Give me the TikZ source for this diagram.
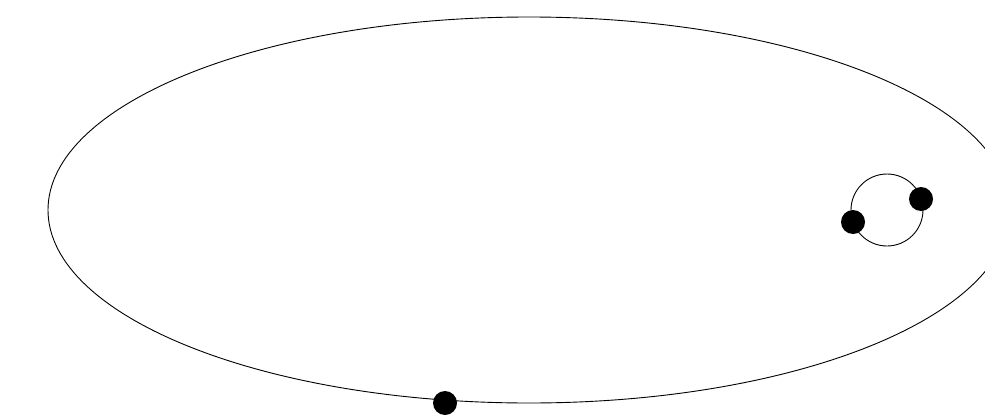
\documentclass[tikz,border=0pt]{standalone}
\tikzset{
  orbit/.style={draw=black, line width=0.9pt},
  body/.style={circle, fill=black, inner sep=0pt, minimum size=24pt},
}
\begin{document}
\begin{tikzpicture}[x=1pt,y=-1pt]
\useasboundingbox (0,0) rectangle (985,415);
\clip (0,0) rectangle (985,415);
\fill[white] (0,0) rectangle (985,415);
\coordinate (sun) at (529,210);
\coordinate (moonorbit) at (887,210);
\draw[orbit] (sun) ellipse [x radius=481, y radius=193];
\draw[orbit] (moonorbit) circle [radius=36];
\node[body] (planet) at (445,403) {};
\node[body] (moonA) at (853,222) {};
\node[body] (moonB) at (921,199) {};
\end{tikzpicture}
\end{document}
